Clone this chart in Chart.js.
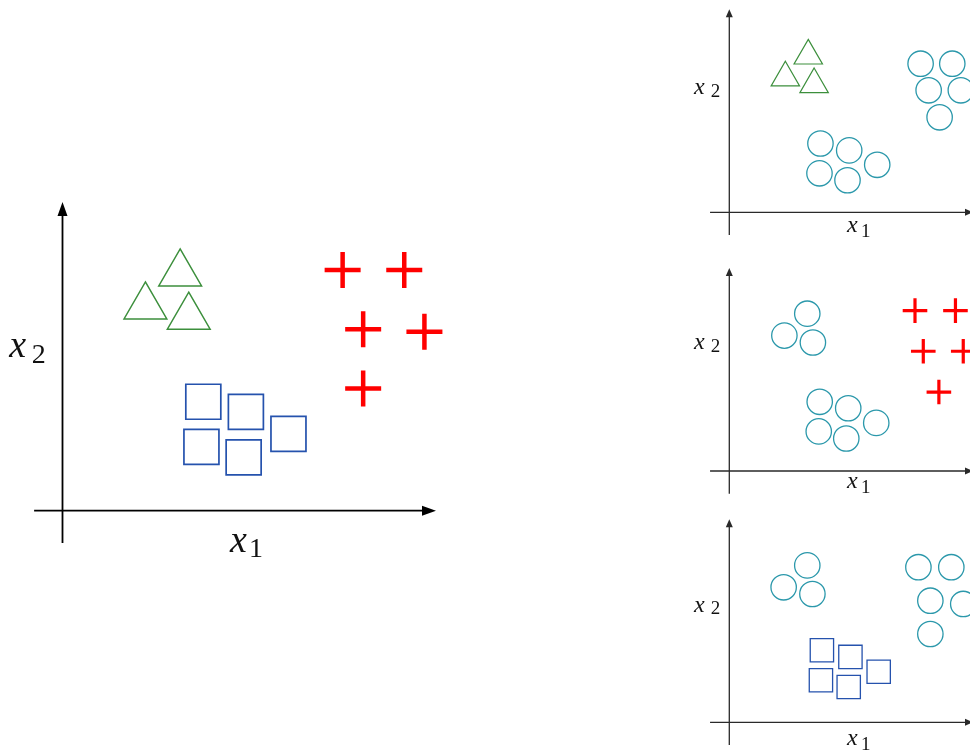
<!DOCTYPE html>
<html>
<head>
<meta charset="utf-8">
<script src="https://cdn.jsdelivr.net/npm/chart.js@4/dist/chart.umd.min.js"></script>
<style>
html, body { margin: 0; padding: 0; background: #fff; overflow: hidden; width: 970px; height: 755px; }
canvas { position: absolute; }
</style>
</head>
<body>
<canvas id="main"></canvas>
<canvas id="vsTriangle"></canvas>
<canvas id="vsCross"></canvas>
<canvas id="vsSquare"></canvas>
<script>
// points are [x1, x2], axis arrows end at 10 on both axes

// big plot: the three classes
const triangles = [[3.15, 7.68], [2.22, 6.61], [3.38, 6.28]];
const squares = [[3.77, 3.53], [4.91, 3.20], [6.05, 2.49], [3.72, 2.07], [4.85, 1.73]];
const crosses = [[7.50, 7.80], [9.15, 7.80], [8.05, 5.88], [9.69, 5.80], [8.05, 3.96]];

// class 1 (triangles) vs rest
const p1Triangles = [[3.24, 7.71], [2.30, 6.63], [3.48, 6.30]];
const p1Rest = [[3.74, 3.39], [4.92, 3.05], [6.07, 2.34], [3.70, 1.92], [4.85, 1.58],
                [7.85, 7.32], [9.15, 7.32], [8.18, 6.01], [9.50, 6.01], [8.63, 4.68]];

// class 3 (crosses) vs rest
const p2Crosses = [[7.62, 7.90], [9.28, 7.90], [7.96, 5.90], [9.60, 5.90], [8.60, 3.89]];
const p2Rest = [[3.20, 7.75], [2.26, 6.67], [3.43, 6.33],
                [3.71, 3.41], [4.88, 3.09], [6.03, 2.37], [3.67, 1.95], [4.80, 1.60]];

// class 2 (squares) vs rest
const p3Squares = [[3.80, 3.55], [4.97, 3.22], [6.13, 2.49], [3.76, 2.07], [4.90, 1.74]];
const p3Rest = [[3.20, 7.73], [2.23, 6.65], [3.41, 6.32],
                [7.76, 7.64], [9.11, 7.64], [8.25, 5.99], [9.60, 5.83], [8.25, 4.35]];

const GREEN = '#3c8f3c';
const BLUE = '#2552ad';
const RED = '#ff0000';
const TEAL = '#2b98ab';
const SERIF = '"Liberation Serif", "DejaVu Serif", serif';

const toXY = pts => pts.map(p => ({ x: p[0], y: p[1] }));

// axes with arrow heads and x1 / x2 labels
const arrowAxes = {
  id: 'arrowAxes',
  beforeDatasetsDraw(chart, args, o) {
    const ctx = chart.ctx;
    const sx = chart.scales.x, sy = chart.scales.y;
    const ox = sx.getPixelForValue(0), oy = sy.getPixelForValue(0);
    const xs = sx.getPixelForValue(o.xFrom), xe = sx.getPixelForValue(10);
    const ys = sy.getPixelForValue(o.yFrom), ye = sy.getPixelForValue(10);
    ctx.save();
    ctx.strokeStyle = o.color;
    ctx.fillStyle = o.color;
    ctx.lineWidth = o.lineWidth;
    ctx.beginPath();
    ctx.moveTo(xs, oy); ctx.lineTo(xe - o.head[0] + 1, oy);
    ctx.moveTo(ox, ys); ctx.lineTo(ox, ye + o.head[0] - 1);
    ctx.stroke();
    ctx.beginPath();
    ctx.moveTo(xe, oy); ctx.lineTo(xe - o.head[0], oy - o.head[1]); ctx.lineTo(xe - o.head[0], oy + o.head[1]);
    ctx.closePath();
    ctx.moveTo(ox, ye); ctx.lineTo(ox - o.head[1], ye + o.head[0]); ctx.lineTo(ox + o.head[1], ye + o.head[0]);
    ctx.closePath();
    ctx.fill();

    ctx.fillStyle = '#111';
    ctx.textBaseline = 'alphabetic';
    ctx.textAlign = 'left';
    [['1', o.x1], ['2', o.x2]].forEach(([sub, p]) => {
      ctx.font = 'italic ' + o.size[0] + 'px ' + SERIF;
      ctx.fillText('x', ox + p[0], oy + p[1]);
      ctx.font = o.size[1] + 'px ' + SERIF;
      ctx.fillText(sub, ox + p[2], oy + p[3]);
    });
    ctx.restore();
  }
};

function panel(id, box, origin, unit, datasets, axes) {
  const cv = document.getElementById(id);
  cv.width = box.w; cv.height = box.h;
  cv.style.left = box.left + 'px';
  cv.style.top = box.top + 'px';
  return new Chart(cv, {
    type: 'scatter',
    data: { datasets },
    options: {
      responsive: false,
      animation: false,
      events: [],
      layout: { padding: 0, autoPadding: false },
      scales: {
        x: { type: 'linear', display: false,
             min: -(origin.x - box.left) / unit.x, max: (box.left + box.w - origin.x) / unit.x },
        y: { type: 'linear', display: false,
             min: -(box.top + box.h - origin.y) / unit.y, max: (origin.y - box.top) / unit.y }
      },
      plugins: { legend: { display: false }, tooltip: { enabled: false }, arrowAxes: axes }
    },
    plugins: [arrowAxes]
  });
}

function marks(pts, style, color, r, bw) {
  return {
    data: toXY(pts), pointStyle: style, pointRadius: r, pointHoverRadius: r,
    borderColor: color, backgroundColor: 'rgba(0,0,0,0)', borderWidth: bw,
    pointBorderWidth: bw, showLine: false
  };
}

panel('main', { left: 0, top: 180, w: 470, h: 400 }, { x: 62.5, y: 510.7 }, { x: 37.35, y: 30.87 }, [
  marks(triangles, 'triangle', GREEN, 24.7, 1.5),
  marks(squares, 'rect', BLUE, 24.75, 1.7),
  marks(crosses, 'cross', RED, 18, 4.5)
], {
  xFrom: -0.76, yFrom: -1.05, color: '#000', lineWidth: 1.8, head: [14, 5],
  size: [38, 28], x1: [167.5, 41.3, 186.5, 46.3], x2: [-53.2, -154, -30.8, -148]
});

const small = { x: 24.37, y: 20.3 };
const smallAxes = (x1, x2) => ({
  xFrom: -0.79, yFrom: -1.12, color: '#2a2a2a', lineWidth: 1.3, head: [8, 3.5],
  size: [24, 19], x1, x2
});

panel('vsTriangle', { left: 680, top: 0, w: 300, h: 250 }, { x: 729.3, y: 212.3 }, small, [
  marks(p1Triangles, 'triangle', GREEN, 16.4, 1.2),
  marks(p1Rest, 'circle', TEAL, 12.7, 1.3)
], smallAxes([117.7, 19.7, 131.7, 24.7], [-35.3, -118, -18.6, -115.6]));

panel('vsCross', { left: 680, top: 255, w: 300, h: 250 }, { x: 729.3, y: 471 }, small, [
  marks(p2Rest, 'circle', TEAL, 12.7, 1.3),
  marks(p2Crosses, 'cross', RED, 12.3, 3.2)
], smallAxes([117.7, 17, 131.7, 22], [-35.3, -121.7, -18.6, -119.3]));

panel('vsSquare', { left: 680, top: 505, w: 300, h: 250 }, { x: 729.3, y: 722.3 }, small, [
  marks(p3Rest, 'circle', TEAL, 12.7, 1.3),
  marks(p3Squares, 'rect', BLUE, 16.5, 1.3)
], smallAxes([117.7, 22.7, 131.7, 27.7], [-35.3, -110.6, -18.6, -108.2]));
</script>
</body>
</html>
